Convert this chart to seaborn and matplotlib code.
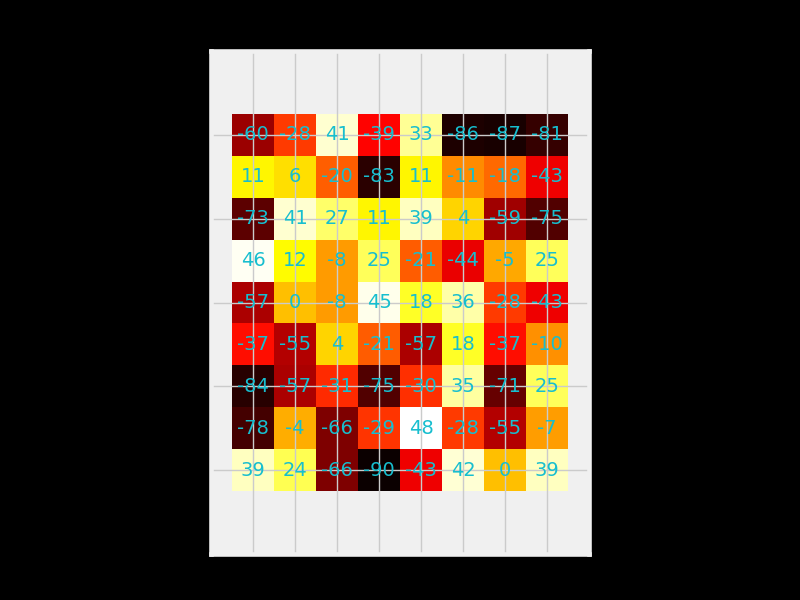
import pandas as pd
import matplotlib
matplotlib.use('Agg')
import matplotlib.pyplot as plt
import seaborn as sns

# Heatmap values, row by row (9 rows x 8 columns)
row0 = [-60, -28, 41, -39, 33, -86, -87, -81]
row1 = [11, 6, -20, -83, 11, -11, -18, -43]
row2 = [-73, 41, 27, 11, 39, 4, -59, -75]
row3 = [46, 12, -8, 25, -21, -44, -5, 25]
row4 = [-57, 0, -8, 45, 18, 36, -28, -43]
row5 = [-37, -55, 4, -21, -57, 18, -37, -10]
row6 = [-84, -57, -31, -75, -30, 35, -71, 25]
row7 = [-78, -4, -66, -29, 48, -28, -55, -7]
row8 = [39, 24, -66, -90, -43, 42, 0, 39]

columns = list(range(8))
rows = list(range(9))

df = pd.DataFrame([row0, row1, row2, row3, row4, row5, row6, row7, row8],
                  index=rows, columns=columns)

sns.set_style('whitegrid', {'axes.facecolor': '#f0f0f0', 'grid.color': '#cbcbcb'})

fig = plt.figure(figsize=(8, 6), dpi=100, facecolor='black')
ax = fig.add_axes([211 / 800, 46 / 600, 378 / 800, 503 / 600])

sns.heatmap(df, ax=ax, cmap='hot', annot=True, fmt='d', cbar=False,
            xticklabels=1, yticklabels=2,
            annot_kws={'color': '#17becf', 'fontsize': 14})

ax.set_facecolor('#f0f0f0')
ax.set_axisbelow('line')
ax.grid(True, color='#cbcbcb', linewidth=1)
ax.set_xlim(-0.5, 8.5)
ax.set_ylim(10.5, -1.5)
ax.tick_params(length=0, labelleft=False, labelbottom=False)
ax.set_xlabel('')
ax.set_ylabel('')
for sp in ax.spines.values():
    sp.set_visible(True)
    sp.set_color('#f0f0f0')
    sp.set_linewidth(3.3)

plt.savefig('out.png', dpi=100, facecolor=fig.get_facecolor())
